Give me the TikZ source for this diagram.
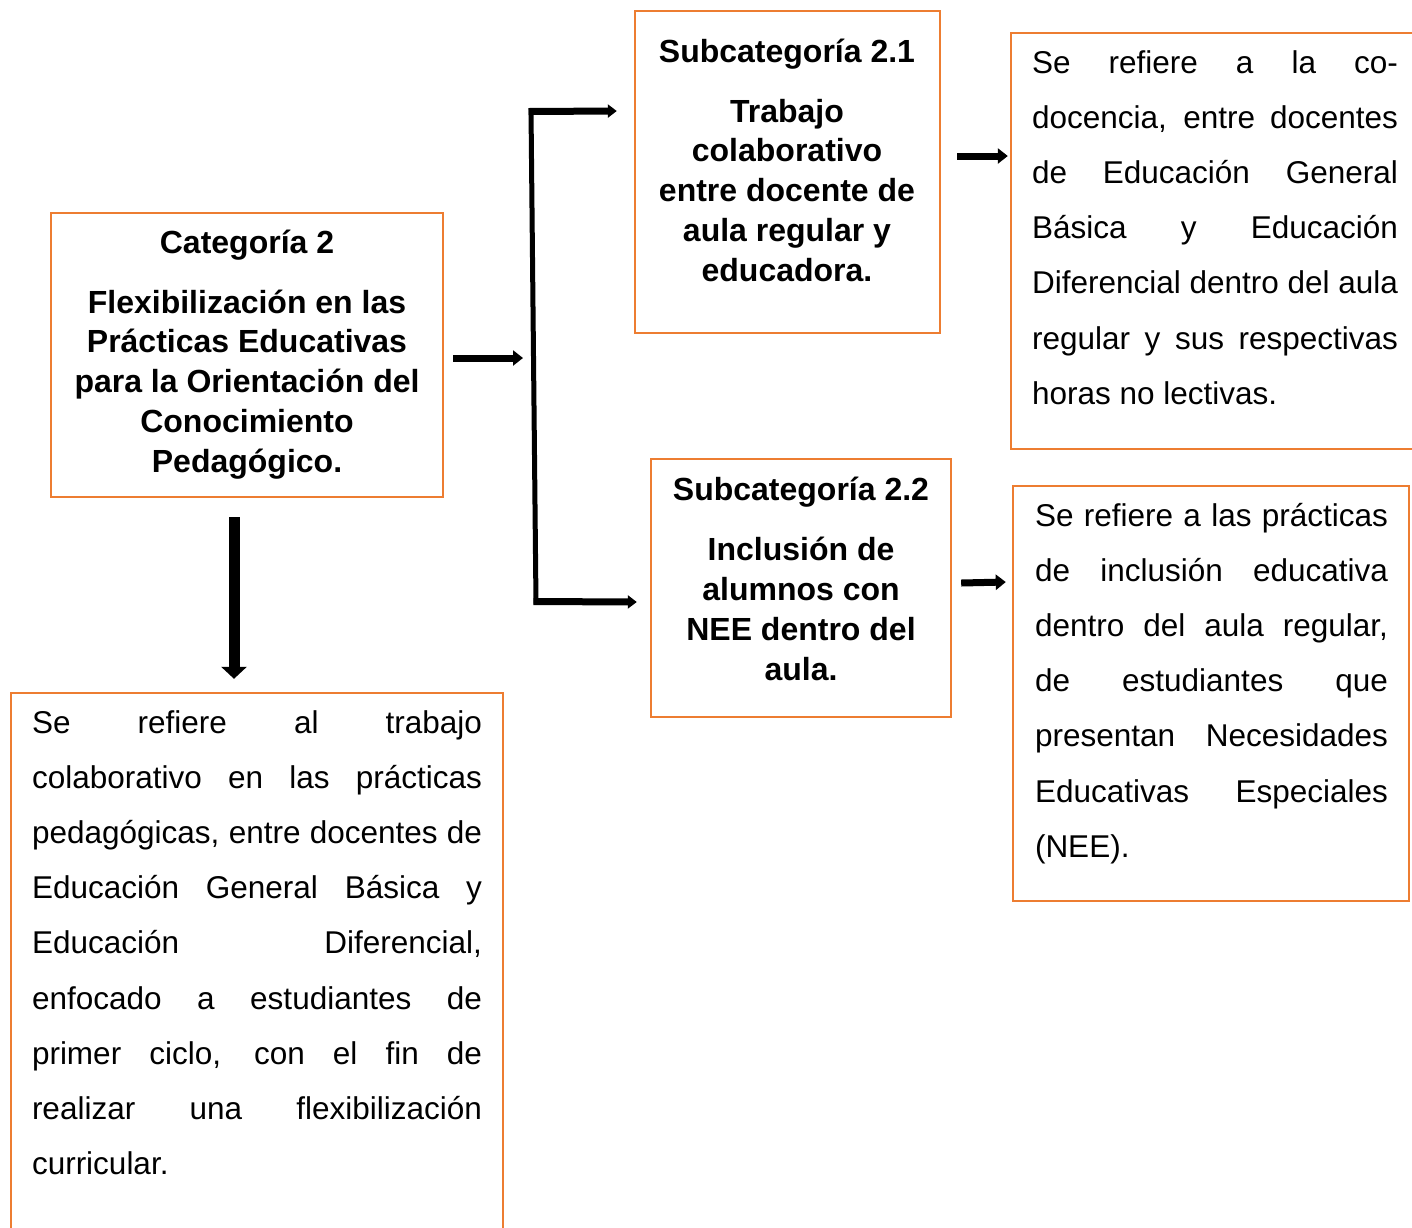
\documentclass[tikz,border=0pt]{standalone}
\usepackage{fontspec}
\setmainfont{Liberation Sans}
\usetikzlibrary{arrows.meta,calc}
\definecolor{boxorange}{HTML}{ED7D31}
\newcommand\jline[1]{\makebox[\linewidth][s]{#1}\\}
\begin{document}
\begin{tikzpicture}[x=1pt,y=-1pt,
  boxframe/.style={draw=boxorange, line width=2.4pt, fill=none, inner sep=0pt},
  txt/.style={inner sep=0pt, outer sep=0pt},
  harrow/.style={line width=7pt, -{Triangle[length=10pt,width=15pt]}},
  darrow/.style={line width=11pt, -{Triangle[length=12pt,width=25pt]}},
  bracketline/.style={line width=5pt}
]
\useasboundingbox (0,0) rectangle (1412,1227);
\clip (0,0) rectangle (1412,1227);
\fill[white] (0,0) rectangle (1412,1227);

% boxes
\node[boxframe, minimum width=392pt, minimum height=284pt] (cat) at (247,355) {};
\node[boxframe, minimum width=305pt, minimum height=322pt] (sub1) at (787.5,172) {};
\node[boxframe, minimum width=300pt, minimum height=258pt] (sub2) at (801,588) {};
\node[boxframe, minimum width=420pt, minimum height=416pt] (desc1) at (1221,241) {};
\node[boxframe, minimum width=396pt, minimum height=415pt] (desc2) at (1211,693.5) {};
\node[boxframe, minimum width=492pt, minimum height=560pt] (desc0) at (257,973) {};

% titles
\node[txt, anchor=base] (cattxt) at (247,253) {\parbox[t]{380pt}{\centering\fontsize{32}{39.8}\selectfont\bfseries
  Categoría 2\\[20.2pt]
  Flexibilización en las\\
  Prácticas Educativas\\
  para la Orientación del\\
  Conocimiento\\
  Pedagógico.}};
\node[txt, anchor=base] (sub1txt) at (787,62) {\parbox[t]{300pt}{\centering\fontsize{32}{39.8}\selectfont\bfseries
  Subcategoría 2.1\\[20.2pt]
  Trabajo\\
  colaborativo\\
  entre docente de\\
  aula regular y\\
  educadora.}};
\node[txt, anchor=base] (sub2txt) at (801,500) {\parbox[t]{296pt}{\centering\fontsize{32}{39.8}\selectfont\bfseries
  Subcategoría 2.2\\[21pt]
  Inclusión de\\
  alumnos con\\
  NEE dentro del\\
  aula.}};

% descriptions
\node[txt, anchor=base west] (d1txt) at (1032,73) {\parbox[t]{366pt}{\fontsize{31.5}{55.2}\selectfont
  \jline{Se refiere a la co-}
  \jline{docencia, entre docentes}
  \jline{de Educación General}
  \jline{Básica y Educación}
  \jline{Diferencial dentro del aula}
  \jline{regular y sus respectivas}
  horas no lectivas.}};
\node[txt, anchor=base west] (d2txt) at (1035,526) {\parbox[t]{353pt}{\fontsize{31.5}{55.2}\selectfont
  \jline{Se refiere a las prácticas}
  \jline{de inclusión educativa}
  \jline{dentro del aula regular,}
  \jline{de estudiantes que}
  \jline{presentan Necesidades}
  \jline{Educativas Especiales}
  (NEE).}};
\node[txt, anchor=base west] (d0txt) at (32,733) {\parbox[t]{450pt}{\fontsize{31.5}{55.2}\selectfont
  \jline{Se refiere al trabajo}
  \jline{colaborativo en las prácticas}
  \jline{pedagógicas, entre docentes de}
  \jline{Educación General Básica y}
  \jline{Educación Diferencial,}
  \jline{enfocado a estudiantes de}
  \jline{primer ciclo, con el fin de}
  \jline{realizar una flexibilización}
  curricular.}};

% connector coordinates
\coordinate (catout) at ($(cat.east)+(9,3)$);
\coordinate (brmid) at (523,358);
\coordinate (brtop) at (531,110);
\coordinate (brbot) at (536,604);
\coordinate (sub1in) at ($(sub1.west)+(-17,-61)$);
\coordinate (sub2in) at ($(sub2.west)+(-13,14)$);
\coordinate (sub1out) at ($(sub1.east)+(16,-16)$);
\coordinate (desc1in) at ($(desc1.west)+(-2,-85)$);
\coordinate (sub2out) at ($(sub2.east)+(9,-5)$);
\coordinate (desc2in) at ($(desc2.west)+(-6,-111.5)$);
\coordinate (catdown) at ($(cat.south)+(-13,19)$);
\coordinate (desc0in) at ($(desc0.north)+(-23,-13)$);

% arrows
\draw[harrow] (catout) -- (brmid);
\draw[bracketline] (brtop) -- (brbot);
\draw[line width=7pt, -{Triangle[length=9pt,width=13pt]}] (528.5,111.5) -- (sub1in);
\draw[line width=7pt, -{Triangle[length=9pt,width=13pt]}] (533.5,601.5) -- (sub2in);
\draw[harrow] (sub1out) -- (desc1in);
\draw[harrow] (sub2out) -- (desc2in);
\draw[darrow] (catdown) -- (desc0in);
\end{tikzpicture}
\end{document}
